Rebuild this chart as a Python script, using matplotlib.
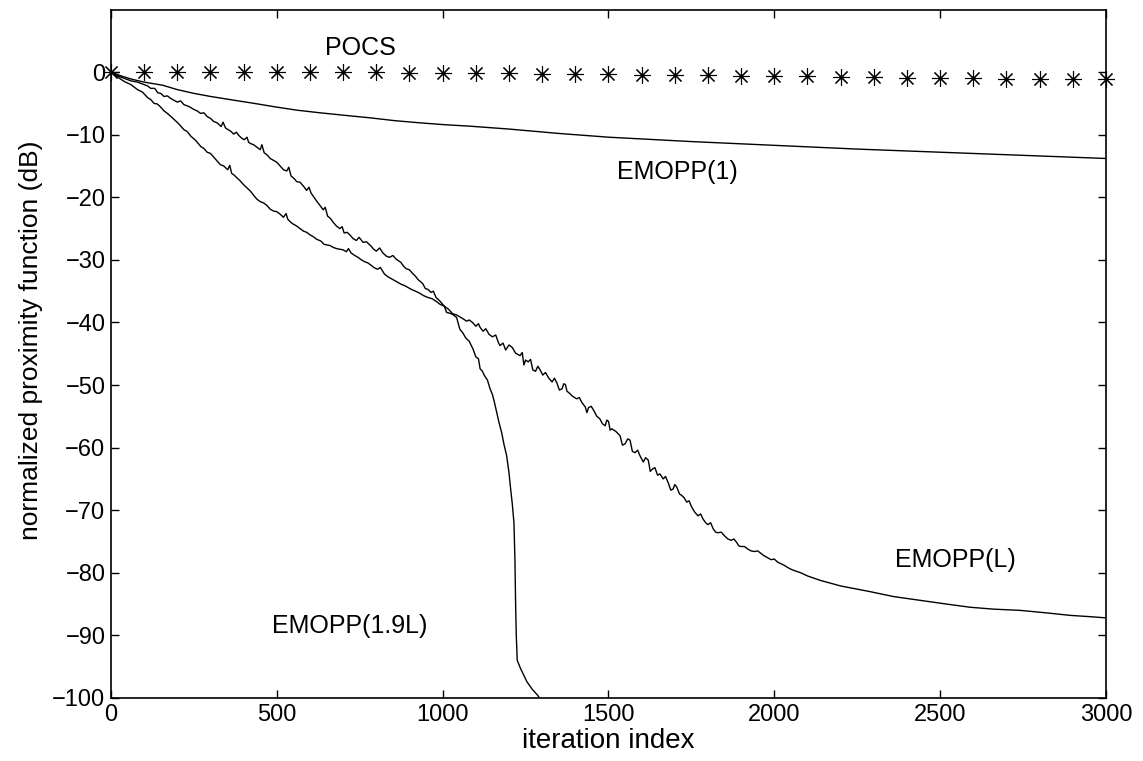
#!/usr/bin/env python

"""Normalized proximity function vs iteration index for POCS and EMOPP variants"""

import matplotlib
matplotlib.use("Agg")
import matplotlib.pyplot as plt

plt.rcParams["font.family"] = ["Liberation Sans", "DejaVu Sans"]

# POCS (asterisks every 100 iterations)
pocs_iter = list(range(0, 3001, 100))
pocs_db = [0.0, 0.0, 0.0, 0.0, 0.0, 0.0, 0.0, -0.05, -0.05, -0.1, -0.1,
           -0.15, -0.2, -0.25, -0.3, -0.35, -0.4, -0.45, -0.5, -0.6, -0.65,
           -0.7, -0.75, -0.8, -0.9, -0.95, -1.0, -1.05, -1.1, -1.1, -1.15]

# EMOPP(1): (iteration, dB)
emopp1_pts = [
    (0, 0.0), (30, -0.6), (60, -1.1), (100, -1.6), (156, -2.1), (200, -2.8),
    (250, -3.4), (301, -3.9), (360, -4.4), (432, -5.0), (500, -5.6),
    (563, -6.1), (630, -6.5), (703, -6.9), (780, -7.3), (854, -7.75),
    (930, -8.1), (1005, -8.4), (1085, -8.65), (1200, -9.1), (1350, -9.8),
    (1500, -10.4), (1750, -11.1), (2000, -11.7), (2250, -12.3),
    (2500, -12.8), (2750, -13.3), (3000, -13.8),
]

# EMOPP(L): (iteration, dB)
emoppL_pts = [
    (0, 0.0), (20, -0.6), (40, -1.0), (60, -1.4), (80, -1.6), (100, -2.0),
    (110, -2.2), (120, -2.6), (132, -2.6), (141, -3.3), (150, -3.4),
    (160, -3.9), (170, -3.8), (180, -4.2), (190, -4.5), (200, -4.8),
    (210, -4.6), (220, -5.2), (235, -5.5), (251, -6.0), (260, -6.2),
    (270, -6.6), (280, -6.5), (290, -7.1), (300, -7.4), (310, -7.9),
    (320, -8.1), (332, -8.7), (338, -8.0), (345, -8.9), (350, -9.1),
    (360, -9.4), (370, -9.9), (378, -9.6), (385, -10.1), (395, -10.6),
    (402, -10.8), (410, -10.4), (415, -11.2), (420, -11.4), (430, -11.6),
    (440, -12.0), (450, -12.4), (455, -11.6), (462, -12.9), (470, -13.2),
    (480, -13.8), (490, -14.1), (500, -14.4), (510, -15.0), (520, -15.6),
    (530, -15.8), (536, -15.2), (543, -16.6), (552, -17.0), (560, -17.5),
    (570, -17.6), (580, -18.2), (590, -18.9), (597, -18.4), (603, -19.3),
    (612, -20.0), (620, -20.6), (630, -21.3), (640, -22.0), (646, -21.6),
    (653, -23.0), (662, -23.4), (670, -24.0), (680, -24.6), (690, -25.0),
    (697, -24.7), (703, -25.7), (712, -25.6), (720, -26.0), (730, -26.6),
    (740, -26.9), (748, -26.4), (760, -27.2), (770, -27.1), (784, -27.8),
    (792, -28.3), (800, -28.6), (810, -28.1), (820, -28.9), (830, -29.4),
    (840, -29.6), (850, -29.3), (860, -29.9), (874, -30.4), (882, -31.0),
    (890, -31.4), (900, -31.6), (910, -32.2), (918, -32.6), (925, -33.1),
    (940, -33.8), (948, -34.6), (955, -34.7), (965, -35.2), (972, -35.0),
    (980, -36.0), (992, -36.6), (1005, -37.4), (1018, -37.9), (1030, -38.6),
    (1042, -38.8), (1055, -39.2), (1064, -39.5), (1072, -39.8), (1080, -39.6),
    (1090, -40.0), (1100, -40.6), (1108, -40.2), (1113, -40.8),
    (1122, -41.4), (1130, -41.0), (1140, -41.9), (1150, -42.3),
    (1160, -42.0), (1168, -43.2), (1173, -43.7), (1182, -43.3),
    (1190, -44.4), (1200, -43.6), (1210, -44.0), (1220, -44.9),
    (1233, -45.3), (1240, -44.8), (1245, -46.8), (1250, -46.0),
    (1258, -46.3), (1265, -45.9), (1272, -47.6), (1280, -47.8),
    (1287, -47.0), (1293, -47.5), (1302, -48.4), (1310, -48.0),
    (1320, -48.9), (1330, -49.5), (1337, -48.9), (1344, -49.6),
    (1352, -50.8), (1360, -50.6), (1365, -49.8), (1370, -49.9),
    (1375, -51.0), (1380, -51.2), (1392, -51.8), (1404, -52.2),
    (1412, -52.0), (1420, -52.8), (1430, -53.5), (1435, -54.4),
    (1440, -53.6), (1448, -53.4), (1455, -54.0), (1465, -55.0),
    (1474, -55.4), (1482, -56.2), (1490, -56.5), (1495, -55.6),
    (1500, -55.8), (1505, -57.2), (1510, -57.0), (1522, -57.4),
    (1535, -58.1), (1542, -59.6), (1550, -59.4), (1558, -58.6),
    (1565, -58.8), (1572, -60.6), (1580, -60.8), (1588, -60.4),
    (1595, -61.3), (1605, -62.3), (1612, -61.6), (1620, -62.0),
    (1626, -63.8), (1633, -63.4), (1640, -63.2), (1648, -64.4),
    (1655, -64.2), (1665, -65.0), (1672, -64.6), (1680, -65.6),
    (1688, -66.8), (1695, -66.6), (1700, -65.9), (1706, -66.3),
    (1714, -67.4), (1720, -67.6), (1728, -68.0), (1736, -68.7),
    (1743, -68.5), (1750, -69.4), (1760, -70.3), (1770, -70.9),
    (1778, -70.6), (1785, -71.4), (1793, -72.0), (1800, -72.3),
    (1808, -72.0), (1816, -73.0), (1823, -73.5), (1830, -73.6),
    (1840, -73.5), (1850, -74.1), (1860, -74.6), (1870, -74.8),
    (1878, -74.6), (1886, -75.1), (1893, -75.7), (1900, -75.8),
    (1910, -75.8), (1920, -76.2), (1930, -76.5), (1940, -76.6),
    (1950, -76.5), (1967, -77.2), (1980, -77.6), (1990, -77.9),
    (2000, -77.8), (2010, -78.3), (2030, -78.8), (2045, -79.3),
    (2058, -79.6), (2080, -80.0), (2100, -80.5), (2138, -81.2),
    (2200, -82.1), (2288, -83.0), (2360, -83.8), (2439, -84.4),
    (2520, -85.0), (2590, -85.5), (2660, -85.8), (2741, -86.0),
    (2820, -86.4), (2892, -86.8), (2950, -87.0), (3000, -87.2),
]

# EMOPP(1.9L): (iteration, dB)
emopp19_pts = [
    (0, 0.0), (20, -0.8), (40, -1.5), (60, -2.0), (80, -2.8), (95, -3.2),
    (111, -4.1), (120, -4.4), (130, -5.0), (140, -5.1), (150, -5.6),
    (160, -6.2), (170, -6.6), (185, -7.3), (201, -8.1), (210, -8.6),
    (220, -9.2), (230, -9.5), (240, -10.2), (255, -10.9), (271, -11.9),
    (280, -12.2), (290, -12.8), (300, -13.0), (310, -13.6), (320, -14.2),
    (330, -14.8), (340, -15.0), (352, -15.6), (358, -14.9), (364, -16.2),
    (370, -16.4), (380, -16.9), (390, -17.4), (400, -18.0), (410, -18.5),
    (420, -19.0), (432, -19.8), (440, -20.3), (450, -20.7), (460, -20.9),
    (470, -21.3), (480, -21.9), (490, -22.2), (500, -22.3), (510, -22.7),
    (520, -23.2), (528, -22.6), (533, -23.5), (542, -24.0), (550, -24.3),
    (560, -24.6), (570, -25.0), (580, -25.4), (590, -25.6), (600, -26.0),
    (610, -26.3), (620, -26.7), (633, -27.0), (642, -27.5), (650, -27.6),
    (660, -27.7), (670, -28.0), (680, -28.2), (690, -28.3), (700, -28.4),
    (710, -28.7), (716, -28.2), (724, -28.9), (735, -29.3), (745, -29.6),
    (755, -30.0), (765, -30.3), (775, -30.5), (785, -30.9), (795, -31.3),
    (804, -31.5), (812, -31.2), (825, -32.3), (835, -32.7), (845, -33.0),
    (855, -33.3), (865, -33.6), (875, -33.9), (885, -34.1), (895, -34.4),
    (905, -34.7), (918, -35.0), (930, -35.3), (942, -35.7), (955, -36.0),
    (968, -36.2), (980, -36.6), (992, -37.1), (1005, -37.4), (1012, -38.4),
    (1020, -38.5), (1030, -38.7), (1042, -39.2), (1052, -41.1), (1060, -41.6),
    (1070, -42.5), (1080, -43.0), (1092, -44.3), (1100, -45.5), (1108, -45.8),
    (1113, -47.4), (1120, -47.8), (1125, -48.4), (1135, -49.2), (1143, -50.6),
    (1150, -51.5), (1155, -52.5), (1163, -54.4), (1170, -56.0), (1178, -57.6),
    (1185, -59.5), (1193, -61.3), (1200, -64.0), (1205, -66.6), (1210, -69.0),
    (1215, -72.0), (1218, -78.0), (1220, -85.0), (1222, -90.0), (1225, -94.0),
    (1235, -95.3), (1254, -97.4), (1270, -98.6), (1287, -99.6), (1292, -100.0),
]

emopp1_iter, emopp1_db = zip(*emopp1_pts)
emoppL_iter, emoppL_db = zip(*emoppL_pts)
emopp19_iter, emopp19_db = zip(*emopp19_pts)

x_ticks = list(range(0, 3001, 500))
y_ticks = list(range(-100, 1, 10))

fig = plt.figure(figsize=(11.43, 7.61), dpi=100)
ax = fig.add_axes([0.0971, 0.0828, 0.8705, 0.9047])

ax.plot(emopp1_iter, emopp1_db, color="black", lw=1.0)
ax.plot(emoppL_iter, emoppL_db, color="black", lw=1.0)
ax.plot(emopp19_iter, emopp19_db, color="black", lw=1.0)
ax.plot(pocs_iter, pocs_db, linestyle="none", marker=(8, 2, 0),
        markersize=12, markeredgewidth=0.8, color="black", clip_on=False)

ax.text(751, 3.9, "POCS", fontsize=18, ha="center", va="center")
ax.text(1707, -16.0, "EMOPP(1)", fontsize=18, ha="center", va="center")
ax.text(2545, -78.0, "EMOPP(L)", fontsize=18, ha="center", va="center")
ax.text(720, -88.5, "EMOPP(1.9L)", fontsize=18, ha="center", va="center")

ax.set_xlim(0, 3000)
ax.set_ylim(-100, 10)
ax.set_xticks(x_ticks)
ax.set_yticks(y_ticks)
ax.tick_params(direction="in", length=6, width=1, top=True, right=True,
               labelsize=17, pad=4)
for spine in ax.spines.values():
    spine.set_linewidth(1.2)

ax.set_xlabel("iteration index", fontsize=20, labelpad=2)
ax.set_ylabel("normalized proximity function (dB)", fontsize=19)
ax.yaxis.set_label_coords(-0.068, 0.52)

fig.savefig("out.png", dpi=100)
plt.close(fig)
